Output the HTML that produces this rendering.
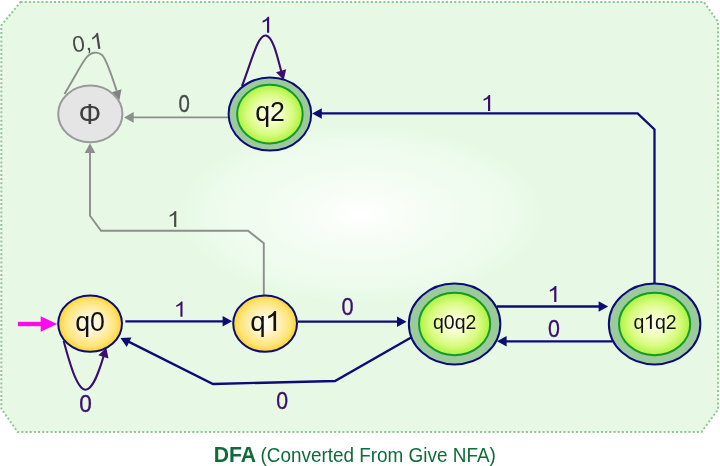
<!DOCTYPE html>
<html><head><meta charset="utf-8">
<style>
html,body{margin:0;padding:0;background:#fff;}
body{width:720px;height:466px;overflow:hidden;font-family:"Liberation Sans",sans-serif;}
svg{display:block;will-change:transform;}
text{font-family:"Liberation Sans",sans-serif;}
</style></head><body>
<svg width="720" height="466" viewBox="0 0 720 466">
<defs>
<radialGradient id="bg" gradientUnits="userSpaceOnUse" cx="361" cy="214" r="182" gradientTransform="translate(361,214) scale(1,0.485) translate(-361,-214)">
<stop offset="0" stop-color="#ffffff"/>
<stop offset="0.35" stop-color="#f5fdf4"/>
<stop offset="0.85" stop-color="#ecfbeb"/>
<stop offset="1" stop-color="#e7f9e5"/>
</radialGradient>
<radialGradient id="yel" cx="0.5" cy="0.5" r="0.5">
<stop offset="0" stop-color="#fffffa"/>
<stop offset="0.3" stop-color="#fff7d4"/>
<stop offset="0.6" stop-color="#ffeb9e"/>
<stop offset="0.82" stop-color="#ffe372"/>
<stop offset="0.93" stop-color="#ffd940"/>
<stop offset="1" stop-color="#ffd020"/>
</radialGradient>
<radialGradient id="grn" cx="0.5" cy="0.5" r="0.5">
<stop offset="0" stop-color="#ffffee"/>
<stop offset="0.35" stop-color="#f2ffc0"/>
<stop offset="0.7" stop-color="#d8fb80"/>
<stop offset="1" stop-color="#acf33e"/>
</radialGradient>
</defs>
<rect width="720" height="466" fill="#fff"/>
<polygon points="20.6,1.9 703.8,1.9 718.1,21.9 718.1,409.4 701.6,431.9 17.6,431.9 1.3,408.6 1.3,25.3" fill="url(#bg)" stroke="#8cc78e" stroke-width="2" stroke-dasharray="2 2.17"/>

<g fill="none" stroke="#8e8e8e" stroke-width="1.9">
<path d="M64.5,94 C72,82 80,66 86,58 C91,51.5 98,51.5 102,55 C106,58.5 110,70 116.6,90.65"/>
<line x1="228" y1="117.4" x2="132" y2="117.4"/>
<path d="M263.8,296 L263.8,243.3 L248,230.7 L101,230.7 L90,215.7 L90,152"/>
</g>
<polygon points="119.50,99.90 111.78,92.15 121.42,89.13" fill="#828282"/>
<polygon points="124.00,117.40 133.70,112.10 133.70,122.70" fill="#8e8e8e"/>
<polygon points="90.00,143.20 95.30,152.90 84.70,152.90" fill="#8e8e8e"/>
<g fill="none" stroke="#0c0c78" stroke-width="2.3">
<line x1="125.3" y1="321.3" x2="225" y2="321.3"/>
<line x1="298" y1="321.7" x2="400" y2="321.7"/>
<line x1="497" y1="306.5" x2="601" y2="306.5"/>
<line x1="612.5" y1="341.3" x2="504" y2="341.3"/>
<path d="M412,337 L335,381 L213,384 L127,340.9"/>
<path d="M654.5,284 L654.5,129.4 L637.6,113.4 L321,113.4"/>
</g>
<polygon points="232.20,321.30 222.60,326.60 222.60,316.00" fill="#0c0c78"/>
<polygon points="406.60,321.70 397.00,327.00 397.00,316.40" fill="#0c0c78"/>
<polygon points="608.20,306.50 598.60,311.80 598.60,301.20" fill="#0c0c78"/>
<polygon points="497.00,341.30 506.60,336.00 506.60,346.60" fill="#0c0c78"/>
<polygon points="312.20,113.50 321.80,108.20 321.80,118.80" fill="#0c0c78"/>
<polygon points="120.50,337.90 131.46,337.45 126.72,346.93" fill="#0c0c78"/>
<g fill="none" stroke="#3a0e6e" stroke-width="2.1">
<path d="M242,86 C252,60 258,34 266,35.5 C273,37 277,55 281.4,72"/>
<path d="M63.6,340.8 C68.8,360 76.5,388.7 85.2,389.7 C93,389.7 99,371.5 103.6,356.2"/>
</g>
<polygon points="283.70,80.00 275.98,72.21 286.18,69.32" fill="#3a0e6e"/>
<polygon points="106.30,347.70 108.50,358.44 98.38,355.29" fill="#3a0e6e"/>
<line x1="17.9" y1="324" x2="42.4" y2="324" stroke="#ff0aee" stroke-width="4.4"/>
<polygon points="57.1,324 40.7,316.3 40.7,331.7" fill="#ff0aee"/>
<ellipse cx="90.3" cy="113.9" rx="32.1" ry="28.3" fill="#e5e5e5" stroke="#9a9a9a" stroke-width="2"/>
<ellipse cx="90.1" cy="323.6" rx="31.9" ry="28.2" fill="url(#yel)" stroke="#0c0c78" stroke-width="2"/>
<ellipse cx="265.1" cy="323.6" rx="31.9" ry="28.2" fill="url(#yel)" stroke="#0c0c78" stroke-width="2"/>
<ellipse cx="269.9" cy="114.1" rx="41.3" ry="36.5" fill="#9bca9b" stroke="#0c0c78" stroke-width="2"/><ellipse cx="269.9" cy="114.1" rx="32.8" ry="29.3" fill="url(#grn)" stroke="#129a2a" stroke-width="2"/>
<ellipse cx="454.6" cy="324" rx="45.75" ry="40.45" fill="#9bca9b" stroke="#0c0c78" stroke-width="2"/><ellipse cx="454.6" cy="324" rx="35.6" ry="31.2" fill="url(#grn)" stroke="#129a2a" stroke-width="2"/>
<ellipse cx="654.6" cy="324" rx="45.75" ry="40.45" fill="#9bca9b" stroke="#0c0c78" stroke-width="2"/><ellipse cx="654.6" cy="324" rx="35.6" ry="31.2" fill="url(#grn)" stroke="#129a2a" stroke-width="2"/>
<text transform="translate(89.90,124.10) scale(0.95,1)" font-size="30" text-anchor="middle" fill="#404040" font-weight="normal">Φ</text>
<text transform="translate(90.10,331.00) scale(0.965,1)" font-size="27.7" text-anchor="middle" fill="#111" font-weight="normal">q0</text>
<text transform="translate(250.20,331.00) scale(1.0,1)" font-size="27.7" text-anchor="start" fill="#111" font-weight="normal">q</text>
<path d="M763,0H583V1147Q518,1085 412.5,1023T223,930V1104Q373,1174.5 485,1275T644,1470H763Z" fill="#111" transform="translate(276.10,331.00) scale(0.01462,-0.01354) translate(-763,0)"/>
<text transform="translate(270.05,121.00) scale(0.965,1)" font-size="27.7" text-anchor="middle" fill="#111" font-weight="normal">q2</text>
<text transform="translate(454.70,329.10) scale(0.96,1)" font-size="20.3" text-anchor="middle" fill="#111" font-weight="normal">q0q2</text>
<text transform="translate(633.50,329.00) scale(0.96,1)" font-size="20.3" text-anchor="start" fill="#111" font-weight="normal">q</text>
<path d="M763,0H583V1147Q518,1085 412.5,1023T223,930V1104Q373,1174.5 485,1275T644,1470H763Z" fill="#111" transform="translate(651.80,328.90) scale(0.01058,-0.00980) translate(-763,0)"/>
<text transform="translate(654.90,329.00) scale(0.96,1)" font-size="20.3" text-anchor="start" fill="#111" font-weight="normal">q2</text>
<path d="M763,0H583V1147Q518,1085 412.5,1023T223,930V1104Q373,1174.5 485,1275T644,1470H763Z" fill="#3a0e6e" transform="translate(269.20,32.80) scale(0.01219,-0.01088) translate(-763,0)"/>
<path d="M763,0H583V1147Q518,1085 412.5,1023T223,930V1104Q373,1174.5 485,1275T644,1470H763Z" fill="#3a0e6e" transform="translate(490.20,111.00) scale(0.01219,-0.01088) translate(-763,0)"/>
<path d="M763,0H583V1147Q518,1085 412.5,1023T223,930V1104Q373,1174.5 485,1275T644,1470H763Z" fill="#3a0e6e" transform="translate(182.50,316.70) scale(0.01158,-0.01034) translate(-763,0)"/>
<path d="M763,0H583V1147Q518,1085 412.5,1023T223,930V1104Q373,1174.5 485,1275T644,1470H763Z" fill="#3a0e6e" transform="translate(556.40,301.90) scale(0.01219,-0.01088) translate(-763,0)"/>
<path d="M763,0H583V1147Q518,1085 412.5,1023T223,930V1104Q373,1174.5 485,1275T644,1470H763Z" fill="#4a4a4a" transform="translate(176.30,227.00) scale(0.01219,-0.01088) translate(-763,0)"/>
<text transform="translate(347.60,315.30) scale(0.89,1)" font-size="24.5" text-anchor="middle" fill="#3a0e6e" font-weight="normal" stroke="#3a0e6e" stroke-width="0.3">0</text>
<text transform="translate(554.00,337.00) scale(0.91,1)" font-size="23.5" text-anchor="middle" fill="#3a0e6e" font-weight="normal" stroke="#3a0e6e" stroke-width="0.3">0</text>
<text transform="translate(85.60,412.40) scale(0.985,1)" font-size="23" text-anchor="middle" fill="#3a0e6e" font-weight="normal" stroke="#3a0e6e" stroke-width="0.3">0</text>
<text transform="translate(282.20,409.30) scale(0.91,1)" font-size="23.4" text-anchor="middle" fill="#3a0e6e" font-weight="normal" stroke="#3a0e6e" stroke-width="0.3">0</text>
<text transform="translate(184.20,111.60) scale(0.865,1)" font-size="23.6" text-anchor="middle" fill="#4a4a4a" font-weight="normal" stroke="#4a4a4a" stroke-width="0.3">0</text>
<g transform="translate(72.9,52.0) rotate(-8.5)">
<text transform="translate(0.60,0.70) scale(1.0,1)" font-size="22.5" text-anchor="start" fill="#4a4a4a" font-weight="normal">0,</text>
<path d="M763,0H583V1147Q518,1085 412.5,1023T223,930V1104Q373,1174.5 485,1275T644,1470H763Z" fill="#4a4a4a" transform="translate(27.70,0.90) scale(0.01234,-0.01102) translate(-763,0)"/>
</g>
<text transform="translate(213.70,462.00) scale(0.995,1)" font-size="21.3" text-anchor="start" fill="#0e6b3a" font-weight="bold">DFA</text>
<text transform="translate(260.50,462.00) scale(0.914,1)" font-size="20.7" text-anchor="start" fill="#0e6b3a" font-weight="normal">(Converted From Give NFA)</text>
</svg>
</body></html>
